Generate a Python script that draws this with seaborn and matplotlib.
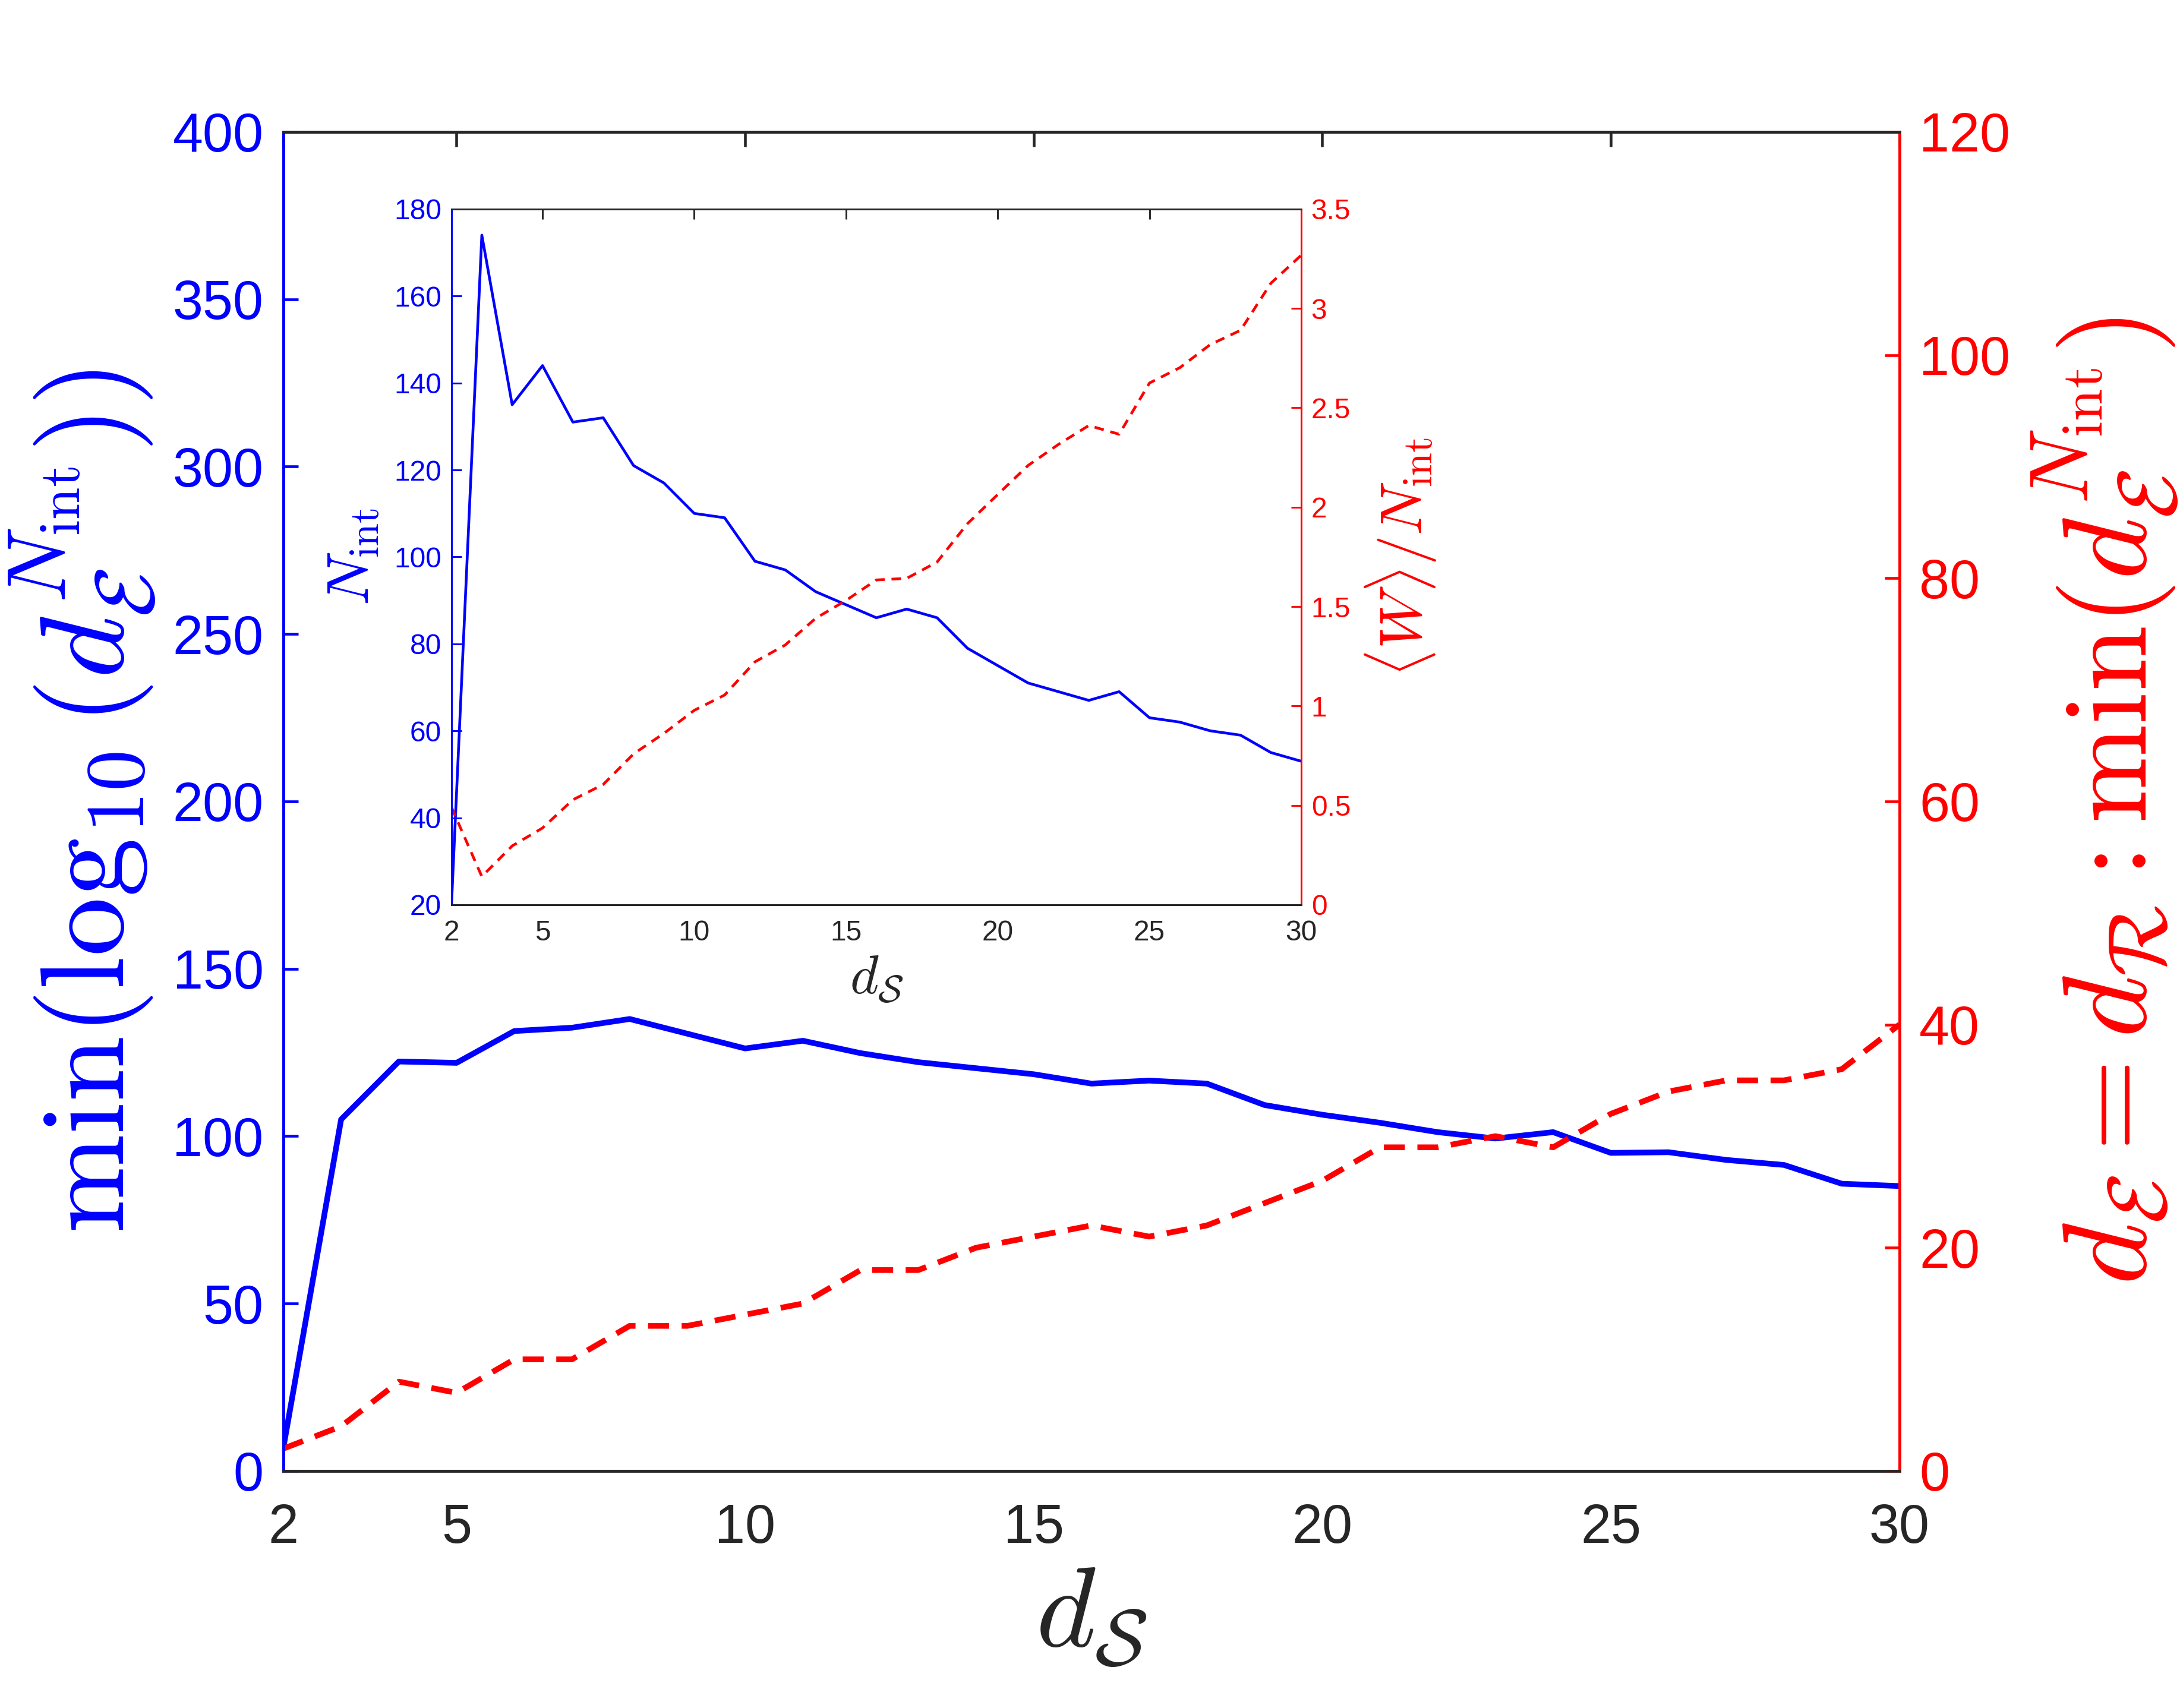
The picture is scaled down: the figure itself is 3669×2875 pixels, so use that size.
import numpy as np
import pandas as pd
import matplotlib
matplotlib.use("Agg")
import matplotlib.pyplot as plt
import seaborn as sns

# ---------------- data ----------------
d_S = list(range(2, 31))
min_log10 = [7, 105, 122.3, 121.9, 131.4, 132.4, 135, 130.6, 126.2, 128.5,
             124.8, 122.1, 120.3, 118.5, 115.7, 116.6, 115.7, 109.3, 106.4, 104,
             101.2, 99.3, 101.2, 95.0, 95.2, 92.9, 91.4, 85.8, 85.1]
d_E = [2, 4, 8, 7, 10, 10, 13, 13, 14, 15,
       18, 18, 20, 21, 22, 21, 22, 24, 26, 29,
       29, 30, 29, 32, 34, 35, 35, 36, 40]
N_int = [20, 174, 135, 144, 131, 132, 121, 117, 110, 109,
         99, 97, 92, 89, 86, 88, 86, 79, 75, 71,
         69, 67, 69, 63, 62, 60, 59, 55, 53]
W_over_N = [0.49, 0.142, 0.296, 0.386, 0.528, 0.605, 0.759, 0.862, 0.978, 1.055,
            1.222, 1.307, 1.441, 1.531, 1.634, 1.642, 1.724, 1.917, 2.064, 2.21,
            2.316, 2.411, 2.367, 2.625, 2.702, 2.818, 2.890, 3.127, 3.268]

x_ticks = [2, 5, 10, 15, 20, 25, 30]
left_ticks = list(range(0, 401, 50))
right_ticks = list(range(0, 121, 20))
in_left_ticks = list(range(20, 181, 20))
in_right_ticks = [0, 0.5, 1, 1.5, 2, 2.5, 3, 3.5]

df = pd.DataFrame({"d_S": d_S, "min_log10": min_log10, "d_E": d_E,
                   "N_int": N_int, "W_over_N": W_over_N})

# ---------------- style ----------------
sns.set_style("white")
plt.rcParams["font.family"] = ["Liberation Sans", "DejaVu Sans"]
plt.rcParams["mathtext.fontset"] = "cm"

BLUE = (0, 0, 1)
RED = (1, 0, 0)
DARK = "#262626"

fig = plt.figure(figsize=(3669 / 300, 2875 / 300), dpi=300)

# ---------------- main axes ----------------
ax = fig.add_axes([0.130, 0.1388, 0.7413, 0.784])
ax2 = ax.twinx()

sns.lineplot(data=df, x="d_S", y="min_log10", ax=ax, color=BLUE, lw=2.3)
sns.lineplot(data=df, x="d_S", y="d_E", ax=ax2, color=RED, lw=2.3)
ax2.lines[0].set_linestyle((0, (3.7, 2.2)))

ax.set_xlim(2, 30)
ax.set_ylim(0, 400)
ax2.set_ylim(0, 120)
ax.set_xticks(x_ticks)
ax.set_yticks(left_ticks)
ax2.set_yticks(right_ticks)

ax.tick_params(axis="x", direction="in", length=6, width=1.1, colors=DARK,
               labelsize=22, pad=13, top=True)
ax.tick_params(axis="y", direction="in", length=6, width=1.1, colors=BLUE,
               labelsize=22, pad=8, right=False)
ax2.tick_params(axis="y", direction="in", length=6, width=1.1, colors=RED,
                labelsize=22, pad=8)

for a in (ax, ax2):
    for s in a.spines.values():
        s.set_linewidth(1.1)
    a.spines["top"].set_color(DARK)
    a.spines["bottom"].set_color(DARK)
    a.spines["left"].set_color(BLUE)
    a.spines["right"].set_color(RED)

ax.set_xlabel(r"$d_{\mathcal{S}}$", fontsize=46, color=DARK, labelpad=4)
ax.set_ylabel(r"$\min(\log_{10}(d_{\mathcal{E}}^{N_{\rm int}}))$", fontsize=48,
              color=BLUE, labelpad=6)
ax2.set_ylabel(r"$d_{\mathcal{E}}=d_{\mathcal{R}}:\min(d_{\mathcal{E}}^{N_{\rm int}})$",
               fontsize=48, color=RED, labelpad=8)

# ---------------- inset ----------------
axin = fig.add_axes([0.2071, 0.4703, 0.3898, 0.4073])
axin.set_facecolor("white")
axin2 = axin.twinx()

sns.lineplot(data=df, x="d_S", y="N_int", ax=axin, color=BLUE, lw=1.1)
sns.lineplot(data=df, x="d_S", y="W_over_N", ax=axin2, color=RED, lw=1.1)
axin2.lines[0].set_linestyle((0, (3.5, 2.5)))

axin.set_xlim(2, 30)
axin.set_ylim(20, 180)
axin2.set_ylim(0, 3.5)
axin.set_xticks(x_ticks)
axin.set_yticks(in_left_ticks)
axin2.set_yticks(in_right_ticks)
axin2.set_yticklabels(["0", "0.5", "1", "1.5", "2", "2.5", "3", "3.5"])

axin.tick_params(axis="x", direction="in", length=4, width=0.7, colors=DARK,
                 labelsize=11.5, pad=6, top=True)
axin.tick_params(axis="y", direction="in", length=4, width=0.7, colors=BLUE,
                 labelsize=11.5, pad=4, right=False)
axin2.tick_params(axis="y", direction="in", length=4, width=0.7, colors=RED,
                  labelsize=11.5, pad=4)

for a in (axin, axin2):
    for s in a.spines.values():
        s.set_linewidth(0.7)
    a.spines["top"].set_color(DARK)
    a.spines["bottom"].set_color(DARK)
    a.spines["left"].set_color(BLUE)
    a.spines["right"].set_color(RED)

axin.set_xlabel(r"$d_{\mathcal{S}}$", fontsize=22, color=DARK, labelpad=3)
axin.set_ylabel(r"$N_{\rm int}$", fontsize=24, color=BLUE, labelpad=5)
axin2.set_ylabel(r"$\langle W\rangle/N_{\rm int}$", fontsize=24, color=RED, labelpad=5)

fig.savefig("out.png", dpi=300, facecolor="white")
